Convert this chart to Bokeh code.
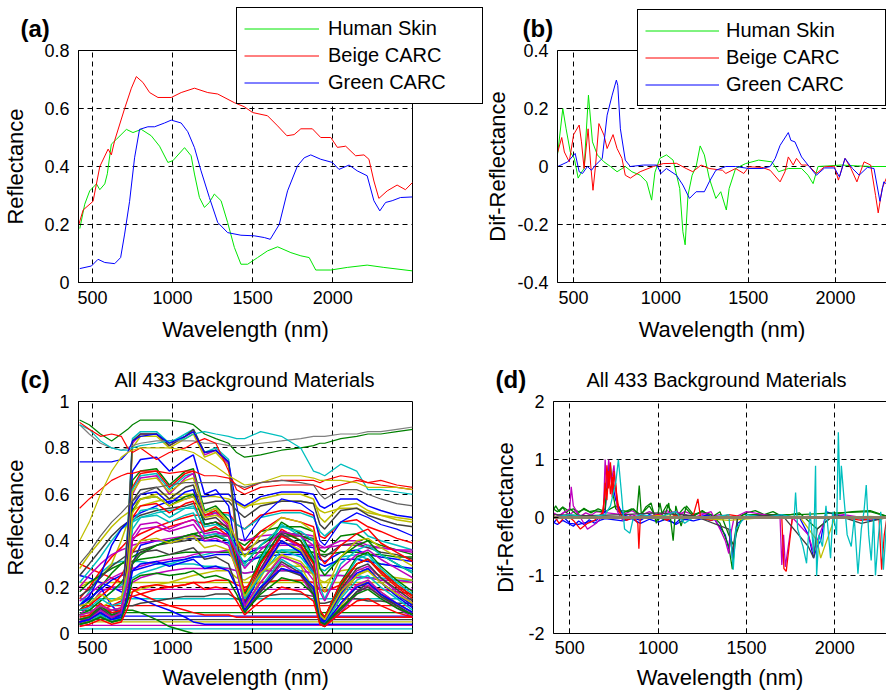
from bokeh.plotting import figure
from bokeh.models import Range1d, FixedTicker, Label, LinearAxis, CustomJSTickFormatter
from bokeh.layouts import column, row
from bokeh.embed import file_html
from bokeh.resources import INLINE

FONT = "Liberation Sans"
MATLAB = ["#0000ff", "#008000", "#ff0000", "#00bfbf", "#bf00bf", "#bfbf00", "#404040"]

# ---------------- panel (a): reflectance ----------------
SKIN_WL = [421, 452, 483, 525, 546, 577, 593, 618, 650, 712, 753, 805, 867, 919, 971, 1002, 1075, 1116, 1137, 1168,
           1199, 1230, 1261, 1303, 1344, 1386, 1427, 1469, 1531, 1593, 1656, 1739, 1801, 1853, 1894, 1988, 2091, 2215, 2319, 2498]
SKIN_R = [0.186, 0.27, 0.316, 0.34, 0.32, 0.34, 0.375, 0.477, 0.494, 0.528, 0.517, 0.528, 0.506, 0.47, 0.414, 0.42, 0.465, 0.437, 0.374, 0.293,
          0.259, 0.276, 0.305, 0.282, 0.207, 0.121, 0.063, 0.063, 0.086, 0.109, 0.123, 0.103, 0.092, 0.086, 0.043, 0.043, 0.052, 0.06, 0.052, 0.04]
BEIGE_WL = [415, 442, 504, 546, 598, 618, 639, 701, 743, 774, 815, 857, 909, 992, 1054, 1137, 1220, 1282, 1386, 1448,
            1500, 1593, 1656, 1714, 1759, 1801, 1873, 1925, 1988, 2029, 2081, 2143, 2195, 2226, 2257, 2288, 2340, 2402, 2454, 2498]
BEIGE_R = [0.20, 0.25, 0.28, 0.40, 0.46, 0.44, 0.49, 0.60, 0.67, 0.71, 0.69, 0.655, 0.638, 0.638, 0.655, 0.67, 0.655, 0.65, 0.62, 0.606,
           0.586, 0.575, 0.54, 0.506, 0.51, 0.53, 0.53, 0.50, 0.50, 0.466, 0.47, 0.437, 0.44, 0.425, 0.35, 0.29, 0.316, 0.336, 0.32, 0.345]
GREEN_WL = [421, 494, 535, 577, 639, 676, 701, 732, 763, 794, 846, 888, 950, 992, 1054, 1095, 1137, 1178, 1230, 1282,
            1344, 1427, 1510, 1573, 1610, 1666, 1718, 1780, 1822, 1863, 1925, 1998, 2039, 2102, 2153, 2215, 2257, 2294, 2330, 2371, 2423, 2498]
GREEN_R = [0.048, 0.057, 0.08, 0.069, 0.065, 0.086, 0.167, 0.28, 0.43, 0.528, 0.537, 0.537, 0.55, 0.56, 0.55, 0.52, 0.465, 0.385, 0.293, 0.207,
           0.172, 0.163, 0.161, 0.155, 0.149, 0.20, 0.316, 0.402, 0.43, 0.44, 0.425, 0.414, 0.39, 0.405, 0.385, 0.368, 0.282, 0.247, 0.276, 0.282, 0.293, 0.295]
SERIES_NAMES = ["Human Skin", "Beige CARC", "Green CARC"]
SERIES_COLORS = ["#00e600", "#ff0000", "#0000ff"]

# ---------------- panel (b): dif-reflectance ----------------
SKIN_D_WL = [409, 438, 457, 481, 504, 526, 545, 560, 585, 608, 636, 674, 711, 749, 796, 834, 881, 919, 947, 966,
             994, 1032, 1070, 1108, 1126, 1139, 1155, 1179, 1202, 1225, 1249, 1277, 1315, 1343, 1375, 1391, 1428, 1485, 1560, 1636,
             1674, 1730, 1806, 1843, 1872, 1900, 1957, 2032, 2126, 2220, 2292]
SKIN_D = [0.045, 0.2, 0.13, 0.05, 0.028, -0.04, -0.02, -0.007, 0.246, 0.085, 0.04, 0.016, 0.0, -0.018, 0.0, -0.018, -0.03, -0.053, -0.116, -0.02,
          0.028, 0.04, 0.022, -0.076, -0.225, -0.27, -0.1, -0.03, 0.0, 0.071, 0.04, -0.04, -0.11, -0.087, -0.15, -0.076, -0.007, 0.01, 0.022, 0.016,
          -0.018, -0.007, -0.007, -0.03, -0.059, 0.0, 0.002, 0.005, 0.002, 0.0, 0.0]
BEIGE_D_WL = [409, 432, 447, 475, 500, 532, 545, 560, 583, 598, 611, 626, 645, 674, 692, 726, 749, 777, 796, 825,
              881, 957, 1013, 1089, 1145, 1183, 1230, 1277, 1353, 1372, 1428, 1475, 1504, 1579, 1626, 1683, 1711, 1730, 1758, 1777,
              1806, 1843, 1891, 1938, 1994, 2017, 2055, 2089, 2123, 2164, 2202, 2230, 2245, 2268, 2292]
BEIGE_D = [0.05, 0.1, 0.05, 0.016, 0.11, 0.143, 0.085, -0.007, 0.13, 0.005, -0.082, 0.005, 0.148, 0.108, 0.062, 0.11, 0.062, 0.028, -0.03, -0.04,
           -0.018, 0.0, 0.01, 0.011, -0.007, -0.018, 0.005, -0.007, -0.013, -0.024, -0.007, -0.024, -0.001, -0.003, -0.013, -0.053, -0.018, 0.033, 0.005, 0.028,
           0.005, 0.005, -0.024, -0.001, 0.001, -0.047, 0.028, -0.007, -0.053, 0.016, 0.005, -0.1, -0.16, -0.075, -0.04]
GREEN_D_WL = [409, 466, 509, 532, 551, 579, 602, 626, 664, 692, 721, 745, 753, 768, 796, 825, 900, 977, 1000, 1032,
              1089, 1126, 1164, 1202, 1249, 1277, 1315, 1372, 1428, 1504, 1579, 1626, 1655, 1683, 1730, 1745, 1768, 1806, 1843, 1891,
              1938, 1994, 2023, 2055, 2098, 2136, 2183, 2221, 2255, 2277, 2292]
GREEN_D = [0.0, 0.016, 0.045, -0.018, -0.024, 0.0, -0.013, 0.005, 0.028, 0.177, 0.246, 0.298, 0.28, 0.13, 0.022, 0.0, 0.005, 0.005, -0.024, -0.007,
           -0.03, -0.064, -0.11, -0.087, -0.087, -0.053, -0.013, 0.0, 0.0, -0.007, -0.007, 0.0, 0.028, 0.073, 0.117, 0.09, 0.085, 0.033, 0.005, -0.03,
           -0.005, -0.005, -0.036, 0.028, -0.007, -0.03, -0.003, -0.007, -0.12, -0.053, -0.06]

# ---------------- panel (c): background reflectance (representative subset) ----------------
WL_C = [420, 480, 550, 620, 680, 720, 750, 800, 900, 980, 1080, 1130, 1200, 1270, 1350, 1400, 1450, 1550, 1680, 1800,
        1880, 1920, 1950, 2050, 2150, 2220, 2300, 2400, 2500]
FLAT_LEVELS = [0.02, 0.035, 0.05, 0.06, 0.075, 0.09, 0.12, 0.15, 0.19, 0.22]
BG_DARK = [
    [0.25, 0.24, 0.22, 0.20, 0.18, 0.17, 0.16, 0.15, 0.12, 0.10, 0.07, 0.05, 0.04, 0.04, 0.04, 0.04, 0.04, 0.04, 0.04, 0.04, 0.04, 0.04, 0.04, 0.04, 0.04, 0.04, 0.04, 0.04, 0.04],
    [0.10, 0.10, 0.10, 0.10, 0.10, 0.10, 0.10, 0.09, 0.06, 0.03, 0.01, 0.00, 0.00, 0.00, 0.00, 0.00, 0.00, 0.00, 0.00, 0.00, 0.00, 0.00, 0.00, 0.00, 0.00, 0.00, 0.00, 0.00, 0.00],
    [0.30, 0.28, 0.26, 0.24, 0.22, 0.20, 0.19, 0.17, 0.14, 0.12, 0.10, 0.09, 0.08, 0.08, 0.08, 0.07, 0.07, 0.07, 0.07, 0.07, 0.07, 0.07, 0.07, 0.07, 0.07, 0.07, 0.07, 0.07, 0.07],
    [0.12, 0.18, 0.26, 0.30, 0.31, 0.31, 0.31, 0.31, 0.30, 0.30, 0.30, 0.30, 0.29, 0.29, 0.28, 0.27, 0.26, 0.27, 0.27, 0.27, 0.26, 0.25, 0.25, 0.25, 0.25, 0.24, 0.24, 0.23, 0.23],
    [0.08, 0.12, 0.18, 0.20, 0.20, 0.21, 0.22, 0.24, 0.26, 0.27, 0.28, 0.28, 0.28, 0.28, 0.28, 0.27, 0.26, 0.27, 0.27, 0.27, 0.26, 0.25, 0.25, 0.25, 0.24, 0.24, 0.23, 0.23, 0.22],
    [0.20, 0.22, 0.24, 0.30, 0.40, 0.48, 0.55, 0.58, 0.60, 0.60, 0.60, 0.60, 0.59, 0.59, 0.58, 0.56, 0.55, 0.56, 0.57, 0.57, 0.56, 0.53, 0.52, 0.54, 0.54, 0.52, 0.51, 0.50, 0.49],
    [0.05, 0.06, 0.08, 0.10, 0.11, 0.12, 0.12, 0.13, 0.14, 0.15, 0.16, 0.16, 0.16, 0.17, 0.17, 0.15, 0.14, 0.16, 0.17, 0.17, 0.16, 0.13, 0.13, 0.15, 0.15, 0.14, 0.14, 0.13, 0.13],
    [0.10, 0.14, 0.20, 0.12, 0.08, 0.15, 0.30, 0.38, 0.40, 0.40, 0.41, 0.41, 0.40, 0.40, 0.39, 0.36, 0.34, 0.37, 0.39, 0.38, 0.37, 0.32, 0.31, 0.35, 0.36, 0.34, 0.33, 0.32, 0.31],
]
BG_SOIL = [
    [0.10, 0.14, 0.20, 0.26, 0.30, 0.32, 0.33, 0.35, 0.38, 0.40, 0.42, 0.43, 0.44, 0.45, 0.45, 0.40, 0.38, 0.44, 0.46, 0.46, 0.44, 0.36, 0.35, 0.42, 0.43, 0.40, 0.38, 0.36, 0.34],
    [0.15, 0.20, 0.27, 0.33, 0.37, 0.40, 0.41, 0.43, 0.46, 0.48, 0.50, 0.51, 0.51, 0.52, 0.52, 0.47, 0.45, 0.51, 0.53, 0.53, 0.51, 0.42, 0.41, 0.48, 0.49, 0.46, 0.44, 0.41, 0.39],
    [0.08, 0.10, 0.14, 0.18, 0.21, 0.23, 0.24, 0.26, 0.28, 0.30, 0.32, 0.33, 0.34, 0.35, 0.35, 0.31, 0.29, 0.34, 0.36, 0.36, 0.35, 0.28, 0.27, 0.33, 0.34, 0.32, 0.30, 0.29, 0.27],
    [0.20, 0.25, 0.30, 0.34, 0.36, 0.37, 0.38, 0.39, 0.40, 0.41, 0.42, 0.42, 0.42, 0.43, 0.43, 0.41, 0.40, 0.42, 0.43, 0.43, 0.42, 0.38, 0.37, 0.40, 0.40, 0.38, 0.37, 0.36, 0.35],
    [0.06, 0.08, 0.11, 0.14, 0.16, 0.17, 0.18, 0.19, 0.21, 0.22, 0.24, 0.25, 0.26, 0.27, 0.27, 0.24, 0.23, 0.27, 0.29, 0.29, 0.28, 0.23, 0.22, 0.27, 0.28, 0.27, 0.25, 0.24, 0.23],
    [0.25, 0.30, 0.36, 0.42, 0.46, 0.48, 0.49, 0.51, 0.53, 0.54, 0.55, 0.56, 0.56, 0.57, 0.57, 0.53, 0.50, 0.55, 0.57, 0.57, 0.56, 0.47, 0.45, 0.53, 0.54, 0.51, 0.49, 0.47, 0.46],
    [0.12, 0.15, 0.19, 0.23, 0.25, 0.26, 0.27, 0.28, 0.30, 0.31, 0.32, 0.33, 0.33, 0.34, 0.34, 0.32, 0.31, 0.33, 0.34, 0.34, 0.33, 0.30, 0.29, 0.32, 0.32, 0.31, 0.30, 0.29, 0.28],
    [0.18, 0.22, 0.25, 0.28, 0.30, 0.31, 0.31, 0.32, 0.33, 0.34, 0.35, 0.35, 0.35, 0.35, 0.35, 0.34, 0.34, 0.35, 0.35, 0.35, 0.35, 0.34, 0.34, 0.35, 0.35, 0.34, 0.34, 0.33, 0.33],
    [0.05, 0.07, 0.10, 0.12, 0.14, 0.15, 0.16, 0.17, 0.19, 0.20, 0.21, 0.22, 0.22, 0.23, 0.23, 0.21, 0.20, 0.22, 0.23, 0.23, 0.22, 0.19, 0.18, 0.21, 0.21, 0.20, 0.19, 0.18, 0.17],
    [0.22, 0.27, 0.33, 0.40, 0.45, 0.47, 0.48, 0.50, 0.52, 0.53, 0.54, 0.54, 0.53, 0.52, 0.51, 0.47, 0.45, 0.50, 0.52, 0.52, 0.50, 0.44, 0.42, 0.48, 0.47, 0.42, 0.40, 0.38, 0.36],
    [0.14, 0.17, 0.21, 0.24, 0.26, 0.27, 0.28, 0.29, 0.31, 0.32, 0.33, 0.34, 0.35, 0.35, 0.36, 0.36, 0.36, 0.37, 0.38, 0.38, 0.38, 0.37, 0.37, 0.38, 0.38, 0.37, 0.37, 0.36, 0.36],
    [0.28, 0.34, 0.40, 0.46, 0.50, 0.52, 0.53, 0.55, 0.57, 0.58, 0.59, 0.59, 0.59, 0.60, 0.60, 0.56, 0.54, 0.58, 0.60, 0.60, 0.58, 0.50, 0.48, 0.55, 0.56, 0.53, 0.51, 0.49, 0.48],
    [0.16, 0.19, 0.24, 0.29, 0.32, 0.34, 0.35, 0.36, 0.38, 0.39, 0.40, 0.41, 0.41, 0.42, 0.42, 0.38, 0.36, 0.40, 0.42, 0.42, 0.41, 0.34, 0.33, 0.38, 0.39, 0.37, 0.35, 0.34, 0.32],
    [0.12, 0.16, 0.25, 0.38, 0.45, 0.48, 0.50, 0.52, 0.55, 0.57, 0.58, 0.59, 0.59, 0.60, 0.60, 0.57, 0.55, 0.59, 0.61, 0.61, 0.60, 0.55, 0.54, 0.58, 0.58, 0.55, 0.53, 0.51, 0.50],
    [0.08, 0.10, 0.14, 0.18, 0.22, 0.26, 0.30, 0.34, 0.38, 0.40, 0.42, 0.43, 0.41, 0.42, 0.40, 0.34, 0.30, 0.38, 0.44, 0.42, 0.40, 0.28, 0.25, 0.33, 0.38, 0.40, 0.34, 0.30, 0.26],
    [0.10, 0.12, 0.16, 0.20, 0.25, 0.30, 0.35, 0.40, 0.44, 0.46, 0.48, 0.49, 0.47, 0.48, 0.46, 0.40, 0.36, 0.44, 0.50, 0.48, 0.46, 0.33, 0.30, 0.38, 0.43, 0.45, 0.39, 0.35, 0.31],
]
BG_VEG = [
    [0.06, 0.07, 0.13, 0.08, 0.10, 0.45, 0.84, 0.87, 0.87, 0.82, 0.86, 0.88, 0.78, 0.80, 0.75, 0.45, 0.12, 0.20, 0.32, 0.27, 0.18, 0.06, 0.04, 0.10, 0.18, 0.22, 0.17, 0.12, 0.08],
    [0.05, 0.06, 0.11, 0.07, 0.09, 0.40, 0.82, 0.86, 0.86, 0.81, 0.85, 0.87, 0.77, 0.79, 0.73, 0.40, 0.10, 0.18, 0.30, 0.25, 0.16, 0.05, 0.03, 0.09, 0.17, 0.21, 0.16, 0.11, 0.07],
    [0.05, 0.06, 0.12, 0.07, 0.09, 0.42, 0.80, 0.85, 0.85, 0.80, 0.84, 0.86, 0.76, 0.78, 0.72, 0.42, 0.11, 0.22, 0.34, 0.29, 0.19, 0.06, 0.04, 0.12, 0.20, 0.23, 0.18, 0.13, 0.09],
    [0.06, 0.07, 0.12, 0.08, 0.10, 0.43, 0.83, 0.86, 0.86, 0.81, 0.85, 0.88, 0.78, 0.79, 0.74, 0.44, 0.11, 0.19, 0.31, 0.26, 0.17, 0.05, 0.04, 0.10, 0.18, 0.22, 0.17, 0.12, 0.08],
    [0.05, 0.06, 0.11, 0.07, 0.09, 0.38, 0.70, 0.75, 0.76, 0.70, 0.75, 0.77, 0.60, 0.62, 0.55, 0.35, 0.14, 0.27, 0.40, 0.35, 0.25, 0.07, 0.05, 0.16, 0.25, 0.28, 0.22, 0.16, 0.11],
    [0.04, 0.05, 0.08, 0.05, 0.06, 0.30, 0.66, 0.70, 0.71, 0.64, 0.70, 0.71, 0.53, 0.55, 0.49, 0.32, 0.16, 0.33, 0.48, 0.43, 0.33, 0.09, 0.07, 0.22, 0.33, 0.35, 0.29, 0.23, 0.18],
    [0.05, 0.06, 0.10, 0.07, 0.08, 0.35, 0.63, 0.69, 0.70, 0.63, 0.69, 0.70, 0.51, 0.53, 0.47, 0.30, 0.14, 0.30, 0.45, 0.40, 0.30, 0.08, 0.06, 0.20, 0.30, 0.32, 0.26, 0.20, 0.15],
    [0.05, 0.06, 0.10, 0.06, 0.08, 0.33, 0.62, 0.68, 0.69, 0.62, 0.68, 0.69, 0.52, 0.54, 0.48, 0.31, 0.15, 0.32, 0.47, 0.42, 0.32, 0.08, 0.06, 0.21, 0.32, 0.34, 0.28, 0.22, 0.17],
    [0.06, 0.07, 0.12, 0.08, 0.09, 0.32, 0.60, 0.67, 0.68, 0.60, 0.67, 0.69, 0.50, 0.52, 0.46, 0.28, 0.12, 0.27, 0.42, 0.37, 0.27, 0.07, 0.05, 0.18, 0.27, 0.29, 0.24, 0.18, 0.13],
    [0.04, 0.05, 0.09, 0.06, 0.07, 0.33, 0.61, 0.66, 0.67, 0.61, 0.66, 0.67, 0.52, 0.54, 0.48, 0.30, 0.10, 0.24, 0.40, 0.36, 0.26, 0.06, 0.04, 0.16, 0.25, 0.28, 0.22, 0.17, 0.12],
    [0.05, 0.06, 0.11, 0.07, 0.08, 0.31, 0.57, 0.62, 0.63, 0.58, 0.63, 0.64, 0.49, 0.50, 0.45, 0.29, 0.13, 0.28, 0.43, 0.38, 0.28, 0.07, 0.05, 0.19, 0.28, 0.30, 0.24, 0.19, 0.14],
    [0.05, 0.06, 0.09, 0.06, 0.08, 0.30, 0.55, 0.60, 0.61, 0.56, 0.61, 0.62, 0.47, 0.48, 0.43, 0.28, 0.12, 0.26, 0.40, 0.35, 0.26, 0.07, 0.05, 0.17, 0.26, 0.28, 0.22, 0.17, 0.12],
    [0.06, 0.07, 0.12, 0.08, 0.09, 0.29, 0.53, 0.58, 0.59, 0.55, 0.59, 0.60, 0.47, 0.48, 0.44, 0.31, 0.17, 0.31, 0.44, 0.40, 0.31, 0.09, 0.07, 0.21, 0.30, 0.32, 0.27, 0.21, 0.16],
    [0.07, 0.08, 0.13, 0.09, 0.10, 0.28, 0.50, 0.55, 0.56, 0.52, 0.56, 0.57, 0.44, 0.46, 0.42, 0.30, 0.18, 0.30, 0.42, 0.38, 0.30, 0.10, 0.07, 0.22, 0.30, 0.32, 0.27, 0.21, 0.16],
    [0.04, 0.05, 0.08, 0.05, 0.07, 0.25, 0.45, 0.50, 0.51, 0.48, 0.51, 0.52, 0.42, 0.43, 0.40, 0.28, 0.15, 0.25, 0.36, 0.33, 0.26, 0.06, 0.04, 0.15, 0.23, 0.25, 0.20, 0.15, 0.10],
    [0.05, 0.06, 0.10, 0.07, 0.09, 0.22, 0.40, 0.45, 0.46, 0.44, 0.46, 0.47, 0.40, 0.41, 0.38, 0.27, 0.12, 0.22, 0.33, 0.30, 0.23, 0.05, 0.03, 0.13, 0.21, 0.23, 0.18, 0.13, 0.09],
    [0.08, 0.09, 0.12, 0.10, 0.11, 0.22, 0.36, 0.40, 0.41, 0.39, 0.41, 0.42, 0.37, 0.38, 0.36, 0.28, 0.16, 0.26, 0.34, 0.31, 0.25, 0.08, 0.06, 0.18, 0.25, 0.27, 0.22, 0.17, 0.13],
    [0.04, 0.05, 0.07, 0.05, 0.06, 0.18, 0.31, 0.35, 0.36, 0.34, 0.36, 0.37, 0.32, 0.33, 0.30, 0.20, 0.09, 0.18, 0.28, 0.25, 0.19, 0.04, 0.03, 0.11, 0.18, 0.20, 0.16, 0.12, 0.08],
    [0.05, 0.06, 0.09, 0.06, 0.07, 0.16, 0.27, 0.30, 0.31, 0.29, 0.31, 0.32, 0.28, 0.29, 0.27, 0.20, 0.10, 0.20, 0.28, 0.26, 0.20, 0.06, 0.04, 0.13, 0.20, 0.22, 0.17, 0.13, 0.09],
    [0.04, 0.05, 0.07, 0.05, 0.06, 0.14, 0.23, 0.25, 0.26, 0.25, 0.26, 0.27, 0.24, 0.25, 0.23, 0.17, 0.09, 0.17, 0.24, 0.22, 0.17, 0.05, 0.04, 0.11, 0.17, 0.19, 0.15, 0.11, 0.08],
    [0.03, 0.04, 0.06, 0.04, 0.05, 0.11, 0.18, 0.20, 0.21, 0.20, 0.21, 0.22, 0.19, 0.20, 0.19, 0.14, 0.08, 0.14, 0.20, 0.18, 0.14, 0.04, 0.03, 0.09, 0.14, 0.15, 0.12, 0.09, 0.07],
    [0.10, 0.11, 0.15, 0.12, 0.13, 0.25, 0.48, 0.53, 0.54, 0.50, 0.54, 0.55, 0.46, 0.47, 0.44, 0.36, 0.30, 0.38, 0.46, 0.44, 0.40, 0.20, 0.15, 0.30, 0.36, 0.38, 0.34, 0.30, 0.26],
    [0.08, 0.09, 0.12, 0.10, 0.11, 0.22, 0.42, 0.47, 0.48, 0.45, 0.48, 0.49, 0.43, 0.44, 0.42, 0.35, 0.28, 0.36, 0.44, 0.42, 0.38, 0.18, 0.14, 0.28, 0.34, 0.36, 0.32, 0.28, 0.24],
    [0.12, 0.13, 0.17, 0.14, 0.15, 0.27, 0.52, 0.58, 0.59, 0.55, 0.58, 0.59, 0.50, 0.51, 0.48, 0.40, 0.33, 0.42, 0.50, 0.48, 0.44, 0.22, 0.18, 0.33, 0.40, 0.41, 0.37, 0.33, 0.29],
]
BG_BRIGHT = [
    [0.92, 0.90, 0.86, 0.83, 0.86, 0.88, 0.90, 0.92, 0.92, 0.92, 0.91, 0.90, 0.86, 0.84, 0.82, 0.78, 0.76, 0.77, 0.79, 0.80, 0.81, 0.82, 0.82, 0.84, 0.85, 0.86, 0.86, 0.87, 0.88],
    [0.90, 0.86, 0.82, 0.80, 0.79, 0.80, 0.81, 0.82, 0.83, 0.83, 0.83, 0.83, 0.82, 0.82, 0.81, 0.81, 0.81, 0.82, 0.83, 0.84, 0.85, 0.85, 0.85, 0.86, 0.86, 0.87, 0.87, 0.88, 0.89],
    [0.90, 0.88, 0.83, 0.80, 0.79, 0.79, 0.80, 0.81, 0.82, 0.83, 0.84, 0.86, 0.87, 0.86, 0.85, 0.84, 0.84, 0.87, 0.85, 0.80, 0.70, 0.69, 0.68, 0.73, 0.70, 0.62, 0.62, 0.61, 0.60],
    [0.91, 0.88, 0.85, 0.86, 0.85, 0.80, 0.78, 0.80, 0.75, 0.78, 0.80, 0.82, 0.84, 0.82, 0.70, 0.62, 0.60, 0.63, 0.64, 0.64, 0.64, 0.63, 0.62, 0.64, 0.66, 0.65, 0.64, 0.63, 0.62],
    [0.74, 0.74, 0.74, 0.74, 0.75, 0.78, 0.83, 0.85, 0.86, 0.82, 0.85, 0.87, 0.78, 0.79, 0.74, 0.55, 0.40, 0.50, 0.58, 0.56, 0.52, 0.40, 0.38, 0.48, 0.52, 0.50, 0.47, 0.45, 0.42],
    [0.54, 0.58, 0.62, 0.66, 0.68, 0.69, 0.69, 0.70, 0.70, 0.69, 0.70, 0.70, 0.68, 0.68, 0.67, 0.64, 0.62, 0.65, 0.66, 0.66, 0.66, 0.65, 0.66, 0.68, 0.67, 0.65, 0.66, 0.64, 0.63],
    [0.40, 0.48, 0.60, 0.70, 0.76, 0.78, 0.79, 0.80, 0.80, 0.80, 0.79, 0.78, 0.75, 0.72, 0.68, 0.66, 0.64, 0.65, 0.68, 0.68, 0.67, 0.66, 0.66, 0.66, 0.65, 0.63, 0.63, 0.63, 0.62],
    [0.30, 0.35, 0.42, 0.48, 0.52, 0.55, 0.57, 0.60, 0.63, 0.64, 0.65, 0.65, 0.65, 0.65, 0.65, 0.64, 0.63, 0.65, 0.66, 0.65, 0.64, 0.60, 0.58, 0.62, 0.62, 0.60, 0.58, 0.56, 0.55],
]
BRIGHT_COLORS = ["#008000", "#808080", "#00bfbf", "#ff0000", "#0000ff", "#ff0000", "#bfbf00", "#606060"]

# ---------------- panel (d): background dif-reflectance (representative subset) ----------------
DN1_WL = [406, 430, 460, 490, 520, 550, 580, 610, 640, 670, 700, 800, 850, 900, 950, 1000, 1050, 1100, 1150, 1200, 1250, 1300, 1350]
DN1 = [-0.08, -0.12, -0.05, -0.1, -0.15, -0.06, -0.12, -0.04, -0.1, -0.05, -0.02, -0.06, -0.02, -0.1, -0.03, -0.08, -0.02, -0.12, -0.03, -0.06, -0.02, -0.05, 0.0]
DN2_WL = [406, 440, 470, 500, 530, 560, 590, 620, 650, 800, 850, 900, 950, 1000, 1050, 1100, 1150, 1200, 1250, 1300, 1350, 1400]
DN2 = [0.08, 0.03, 0.1, 0.05, 0.12, 0.02, 0.08, 0.04, 0.1, 0.05, 0.12, 0.03, 0.1, 0.04, 0.12, 0.02, 0.1, 0.05, 0.08, 0.02, 0.05, 0.0]
DG2_WL = [406, 420, 440, 460, 480, 500, 540, 580, 620, 660, 700, 760, 800, 850, 900, 950, 1000, 1050, 1100, 1150,
          1200, 1250, 1300, 1350, 1400, 1430, 1450, 1500, 1550, 1600, 1650, 1700, 1800, 1900, 2000, 2100, 2200, 2295]
DG2 = [0.12, 0.2, 0.1, 0.18, 0.08, 0.15, 0.05, 0.16, 0.08, 0.15, 0.1, 0.2, 0.08, 0.15, 0.05, 0.2, -0.05, 0.22, 0.0, 0.18,
       0.02, 0.12, 0.0, 0.1, -0.3, -0.5, 0.0, 0.08, 0.12, 0.05, 0.1, 0.02, 0.08, -0.2, 0.06, 0.1, 0.12, 0.02]
DB_WL = [406, 450, 500, 550, 600, 650, 700, 720, 740, 760, 800, 850, 900, 950, 1000, 1100, 1150, 1200, 1300, 1380,
         1400, 1410, 1420, 1450, 1500, 1600, 1800, 1850, 1880, 1900, 1920, 1950, 2000, 2100, 2200, 2295]
DB = [-0.1, 0.05, -0.1, -0.12, -0.08, -0.05, 0.1, 0.9, 0.6, 0.3, 0.05, 0.0, -0.05, 0.05, 0.0, -0.1, 0.05, 0.0, 0.05, -0.3,
      -0.55, -0.2, -0.7, -0.1, 0.0, 0.05, 0.0, -0.3, -0.7, -0.5, -0.4, 0.1, 0.05, 0.0, -0.05, 0.0]
DG_WL = [406, 430, 460, 490, 520, 550, 580, 610, 640, 680, 700, 715, 730, 745, 760, 780, 800, 830, 860, 880,
         893, 905, 930, 960, 990, 1010, 1030, 1060, 1085, 1100, 1130, 1160, 1200, 1250, 1300, 1350, 1400, 1420, 1440, 1480,
         1600, 1800, 2000, 2200, 2295]
DG = [0.15, 0.1, 0.18, 0.12, 0.15, 0.1, 0.14, 0.1, 0.12, 0.1, 0.15, 0.7, 0.9, 0.4, 0.15, 0.1, 0.12, 0.1, 0.15, 0.08,
      0.55, 0.05, 0.18, 0.25, -0.1, 0.25, -0.05, 0.25, -0.4, 0.2, -0.15, 0.2, 0.05, 0.1, 0.05, -0.1, -0.5, -0.89, -0.3, 0.05,
      0.05, 0.05, 0.08, 0.1, 0.02]
DM_WL = [406, 450, 500, 508, 520, 560, 600, 650, 690, 700, 710, 720, 735, 750, 770, 800, 850, 900, 1000, 1100,
         1200, 1300, 1350, 1380, 1400, 1410, 1430, 1500, 1600, 1690, 1700, 1710, 1720, 1760, 1850, 1880, 1900, 1950, 2050, 2150, 2295]
DM = [0.0, 0.05, 0.15, 0.53, 0.2, 0.0, -0.2, -0.1, 0.05, 1.0, 0.5, 1.0, 0.6, 0.9, 0.1, -0.05, 0.05, 0.0, 0.05, 0.1,
      0.0, 0.1, -0.2, -0.4, -0.62, -0.3, 0.0, 0.1, 0.05, 0.0, -0.82, -0.3, -0.85, 0.0, -0.3, -0.6, -0.4, 0.0, 0.05, 0.0, 0.0]
DR_WL = [406, 440, 480, 520, 560, 600, 640, 690, 700, 710, 720, 730, 740, 750, 760, 770, 790, 820, 860, 885,
         891, 900, 950, 1000, 1050, 1100, 1150, 1200, 1225, 1240, 1300, 1400, 1500, 1600, 1700, 1712, 1725, 1760, 1850, 1950,
         2050, 2150, 2250, 2265, 2280, 2295]
DR = [0.05, -0.1, 0.05, -0.05, -0.2, -0.1, -0.05, 0.1, 0.6, 0.3, 0.8, 0.4, 0.7, 0.5, 0.6, 0.2, 0.05, -0.05, 0.0, -0.1,
      -0.54, 0.05, 0.0, 0.05, -0.05, 0.05, 0.0, 0.05, 0.32, 0.0, -0.05, 0.05, 0.0, 0.02, 0.0, -0.88, -0.93, 0.0, 0.02, 0.0,
      0.0, -0.05, 0.0, -0.9, -0.3, 0.0]
DR2_WL = [680, 700, 710, 720, 730, 740, 750, 760, 780, 800]
DR2 = [0.0, 0.4, 0.9, 0.5, 0.95, 0.35, 0.8, 0.5, 0.1, 0.0]
DY_WL = [406, 500, 600, 700, 800, 900, 1000, 1200, 1400, 1600, 1800, 1900, 1920, 2000, 2200, 2295]
DY = [0.02, -0.02, 0.03, 0.0, 0.02, 0.0, 0.03, 0.0, -0.05, 0.0, 0.02, -0.4, -0.7, 0.0, 0.02, 0.0]
DK_WL = [406, 600, 800, 1000, 1200, 1400, 1420, 1450, 1700, 1850, 1880, 1900, 2000, 2150, 2295]
DK = [0.05, 0.03, 0.05, 0.08, 0.03, -0.2, -0.6, 0.0, 0.05, -0.5, -0.7, -0.2, 0.05, -0.1, 0.0]
DC_WL = [406, 500, 600, 700, 730, 760, 775, 790, 810, 840, 860, 900, 1000, 1100, 1150, 1200, 1300, 1400, 1415, 1425,
         1440, 1500, 1600, 1700, 1770, 1778, 1790, 1820, 1840, 1860, 1880, 1891, 1897, 1910, 1930, 1950, 1976, 1990, 2010, 2020,
         2030, 2037, 2050, 2070, 2093, 2110, 2131, 2150, 2165, 2178, 2192, 2206, 2220, 2230, 2245, 2260, 2275, 2295]
DC = [0.0, 0.05, 0.0, 0.05, 0.2, 0.6, 1.0, 0.5, -0.2, -0.27, 0.0, 0.05, 0.0, 0.1, -0.1, 0.0, 0.0, 0.05, -0.5, -0.9,
      -0.2, 0.05, 0.0, 0.05, 0.0, 0.43, -0.2, -0.5, -0.79, 0.1, -0.6, 0.89, -1.01, -0.3, -0.5, 0.2, -0.7, 0.1, -0.3, 1.47,
      0.3, 0.89, 0.4, -0.3, -0.5, 0.0, -0.97, -0.2, 0.1, 0.56, -0.3, -0.74, 0.0, -1.0, -0.4, 0.1, -0.9, 0.0]
DBASE_WL = [406, 2295]
DBASE = [0.0, 0.0]

X_TICKS = [500, 1000, 1500, 2000, 2500]
PANEL_TITLE = "All 433 Background Materials"


def make_fig(w, h, xr, yr, borders, yticks, ylabel, full_box, ylab_standoff, xtick_standoff, xlab_standoff):
    left, right, top, bottom = borders
    p = figure(width=w, height=h, x_range=Range1d(*xr), y_range=Range1d(*yr),
               output_backend="svg", toolbar_location=None,
               min_border_left=left, min_border_right=right, min_border_top=top, min_border_bottom=bottom)
    p.background_fill_color = "white"
    p.border_fill_color = "white"
    xt = FixedTicker(ticks=X_TICKS)
    yt = FixedTicker(ticks=yticks)
    p.xaxis.ticker = xt
    p.yaxis.ticker = yt
    p.xgrid.ticker = xt
    p.ygrid.ticker = yt
    p.yaxis.formatter = CustomJSTickFormatter(code="return String(Math.round(tick*10)/10)")
    for ax in (p.xaxis[0], p.yaxis[0]):
        ax.axis_line_color = "black"
        ax.axis_line_width = 1
        ax.major_tick_in = 5
        ax.major_tick_out = 0
        ax.major_tick_line_color = "black"
        ax.minor_tick_line_color = None
        ax.major_label_text_font = FONT
        ax.major_label_text_font_size = "18px"
        ax.major_label_text_color = "black"
        ax.axis_label_text_font = FONT
        ax.axis_label_text_font_size = "22px"
        ax.axis_label_text_font_style = "normal"
        ax.axis_label_text_color = "black"
    p.xaxis.major_label_standoff = xtick_standoff
    p.yaxis.major_label_standoff = 9
    p.xaxis.axis_label = "Wavelength (nm)"
    p.yaxis.axis_label = ylabel
    p.xaxis.axis_label_standoff = xlab_standoff
    p.yaxis.axis_label_standoff = ylab_standoff
    for g in (p.xgrid[0], p.ygrid[0]):
        g.grid_line_color = "black"
        g.grid_line_dash = "5 4"
        g.grid_line_width = 1
        g.grid_line_alpha = 1
    if full_box:
        p.outline_line_color = "black"
        p.outline_line_width = 1
        p.outline_line_alpha = 1
    else:
        p.outline_line_color = None
        top_ax = LinearAxis(ticker=FixedTicker(ticks=[]), axis_line_color="black",
                            major_tick_line_color=None, minor_tick_line_color=None,
                            major_tick_in=0, major_tick_out=0,
                            major_label_text_font_size="0px", major_label_standoff=0)
        p.add_layout(top_ax, "above")
    return p


def overlay_fig(w, h, left, top):
    f = figure(width=w, height=h, x_range=Range1d(0, 1), y_range=Range1d(0, 1),
               output_backend="svg", toolbar_location=None, x_axis_type=None, y_axis_type=None,
               min_border_left=0, min_border_right=0, min_border_top=0, min_border_bottom=0)
    f.outline_line_color = None
    f.background_fill_alpha = 0
    f.border_fill_alpha = 0
    f.styles = {"position": "absolute", "left": f"{left}px", "top": f"{top}px", "z-index": "10"}
    return f


def legend_overlay(left, top, glyph_w, standoff, label_w, canvas_w, xs_list, ys_list):
    f = overlay_fig(canvas_w, 110, left - 1, top - 1)
    # legend samples reuse the panel's series; they fall outside this overlay's 0..1 ranges
    for xs, ys, name, col in zip(xs_list, ys_list, SERIES_NAMES, SERIES_COLORS):
        f.line(xs, ys, line_color=col, line_width=1, legend_label=name)
    lg = f.legend[0]
    lg.location = "top_left"
    lg.margin = 1
    lg.orientation = "vertical"
    lg.label_text_font = FONT
    lg.label_text_font_size = "20px"
    lg.label_text_color = "black"
    lg.glyph_width = glyph_w
    lg.glyph_height = 27
    lg.label_height = 27
    lg.label_standoff = standoff
    lg.label_width = label_w
    lg.padding = 7
    lg.spacing = 0
    lg.border_line_color = "black"
    lg.border_line_width = 1.3
    lg.border_line_alpha = 1
    lg.background_fill_color = "white"
    lg.background_fill_alpha = 1
    return f


def letter_overlay(text, left, top):
    f = overlay_fig(44, 30, left, top)
    f.add_layout(Label(x=2, y=2, x_units="screen", y_units="screen", text=text, text_font=FONT,
                       text_font_size="24px", text_font_style="bold", text_align="left",
                       text_baseline="bottom", text_color="black"))
    return f


AC_X = (413, 2498)
BD_X = (407.7, 2292.6)

# (a)
pa = make_fig(482, 352, AC_X, (0, 0.8), (77, 70, 50, 70), [0, 0.2, 0.4, 0.6, 0.8], "Reflectance", True, 13, 8, 10)
for xs, ys, col in zip([SKIN_WL, BEIGE_WL, GREEN_WL], [SKIN_R, BEIGE_R, GREEN_R], SERIES_COLORS):
    pa.line(xs, ys, line_color=col, line_width=1)

# (b)
pb = make_fig(404, 352, BD_X, (-0.4, 0.4), (71, 0, 50, 70), [-0.4, -0.2, 0, 0.2, 0.4], "Dif-Reflectance", False, 4, 8, 10)
for xs, ys, col in zip([SKIN_D_WL, BEIGE_D_WL, GREEN_D_WL], [SKIN_D, BEIGE_D, GREEN_D], SERIES_COLORS):
    pb.line(xs, ys, line_color=col, line_width=1)

# (c)
pc = make_fig(482, 342, AC_X, (0, 1), (77, 70, 49, 61), [0, 0.2, 0.4, 0.6, 0.8, 1], "Reflectance", True, 13, 7, 8)
flat_x = [[WL_C[0], WL_C[-1]] for _ in FLAT_LEVELS]
flat_y = [[lv, lv] for lv in FLAT_LEVELS]
pc.multi_line(flat_x, flat_y, line_color=[MATLAB[(i + 3) % 7] for i in range(len(FLAT_LEVELS))], line_width=1.4)
groups = BG_DARK + BG_SOIL + BG_VEG
pc.multi_line([WL_C for _ in groups], groups, line_color=[MATLAB[i % 7] for i in range(len(groups))], line_width=1.5)
pc.multi_line([WL_C for _ in BG_BRIGHT], BG_BRIGHT, line_color=BRIGHT_COLORS, line_width=1.2)

# (d)
pd = make_fig(404, 342, BD_X, (-2, 2), (71, 0, 49, 61), [-2, -1, 0, 1, 2], "Dif-Reflectance", False, 7, 7, 8)
d_series = [(DN1_WL, DN1, "#0000ff"), (DN2_WL, DN2, "#bf00bf"),
            (DG2_WL, DG2, "#008000"), (DB_WL, DB, "#0000ff"), (DG_WL, DG, "#008000"), (DM_WL, DM, "#bf00bf"),
            (DR_WL, DR, "#ff0000"), (DR2_WL, DR2, "#ff0000"), (DY_WL, DY, "#bfbf00"), (DK_WL, DK, "#404040"),
            (DC_WL, DC, "#00bfbf")]
for xs, ys, c in d_series:
    pd.line(xs, ys, line_color=c, line_width=1.3)
pd.line(DBASE_WL, DBASE, line_color="#8a7f66", line_width=3)

# header overlay with the lower panels' letters and titles
hdr = overlay_fig(886, 46, 0, 352)
for txt, x, y, style, size, align, base in [("(c)", 20, 6, "bold", "24px", "left", "bottom"),
                                              (PANEL_TITLE, 244, 19, "normal", "20px", "center", "alphabetic"),
                                              ("(d)", 495, 6, "bold", "24px", "left", "bottom"),
                                              (PANEL_TITLE, 716, 19, "normal", "20px", "center", "alphabetic")]:
    hdr.add_layout(Label(x=x, y=y, x_units="screen", y_units="screen", text=txt, text_font=FONT,
                         text_font_size=size, text_font_style=style, text_align=align,
                         text_baseline=base, text_color="black"))

# overlays (legends and panel letters that sit across the frame edges)
leg_a = legend_overlay(236, 7, 75, 9, 147, 285, [SKIN_WL, BEIGE_WL, GREEN_WL], [SKIN_R, BEIGE_R, GREEN_R])
leg_b = legend_overlay(637, 9, 74, 7, 152, 886 - 636, [SKIN_D_WL, BEIGE_D_WL, GREEN_D_WL], [SKIN_D, BEIGE_D, GREEN_D])
let_a = letter_overlay("(a)", 18, 13)
let_b = letter_overlay("(b)", 520, 13)

layout = column(row(pa, pb), row(pc, pd), hdr, leg_a, leg_b, let_a, let_b)
open("out.html", "w").write(file_html(layout, INLINE))
